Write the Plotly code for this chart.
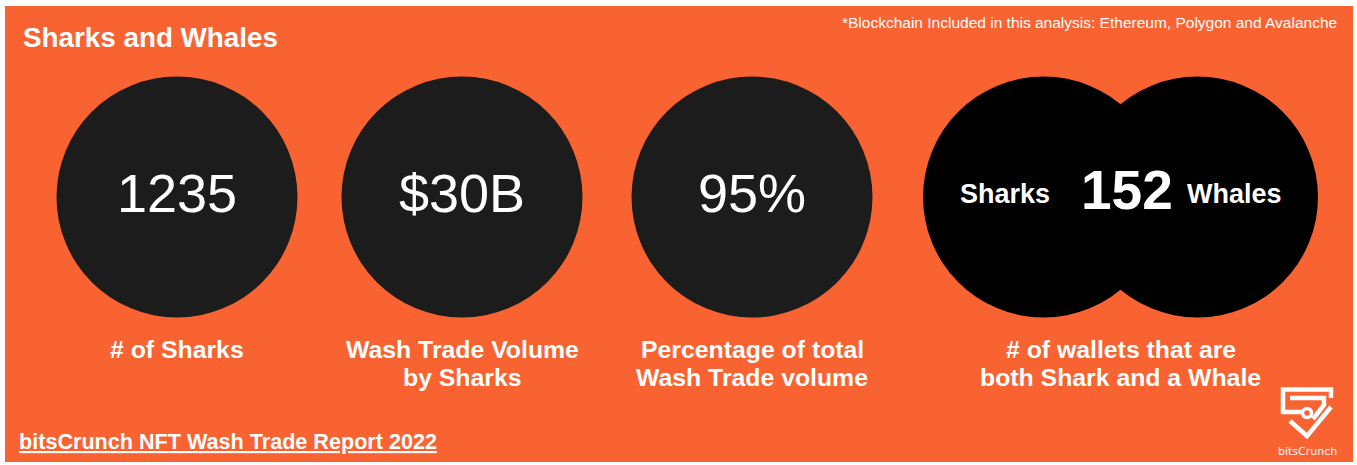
import plotly.graph_objects as go

W, H = 1357, 465

# ---- data ----
title = "Sharks and Whales"
note = "*Blockchain Included in this analysis: Ethereum, Polygon and Avalanche"
footer = "bitsCrunch NFT Wash Trade Report 2022"
stat_values = ["1235", "$30B", "95%"]
stat_labels = [["# of Sharks"],
               ["Wash Trade Volume", "by Sharks"],
               ["Percentage of total", "Wash Trade volume"]]
venn_left = "Sharks"
venn_right = "Whales"
venn_value = "152"
venn_label = ["# of wallets that are", "both Shark and a Whale"]
brand = "bitsCrunch"

ORANGE = "#F96332"
DARK = "#1C1C1C"
FONT = "Liberation Sans, Arial, sans-serif"

fig = go.Figure()
shapes = []
ann = []

# background panel
shapes.append(dict(type="rect", x0=5, x1=1353, y0=6, y1=462, fillcolor=ORANGE, line_width=0, layer="below"))

R = 120.5
cy = 197
centers = [177, 462, 752]
for cx, val, lab in zip(centers, stat_values, stat_labels):
    shapes.append(dict(type="circle", x0=cx - R, x1=cx + R, y0=cy - R, y1=cy + R,
                       fillcolor=DARK, line_width=0, layer="below"))
    ann.append(dict(x=cx, y=193, text=val, showarrow=False, xanchor="center", yanchor="middle",
                    font=dict(family=FONT, size=54, color="white")))
    for i, line in enumerate(lab):
        ann.append(dict(x=cx, y=349 + 28 * i, text="<b>%s</b>" % line, showarrow=False,
                        xanchor="center", yanchor="middle",
                        font=dict(family=FONT, size=24.8, color="white")))

# venn
vl, vr = 1043.5, 1197.5
for cx in (vl, vr):
    shapes.append(dict(type="circle", x0=cx - R, x1=cx + R, y0=cy - R, y1=cy + R,
                       fillcolor="black", line_width=0, layer="below"))
vm = (vl + vr) / 2
ann.append(dict(x=1005, y=194, text="<b>%s</b>" % venn_left, showarrow=False, xanchor="center",
                yanchor="middle", font=dict(family=FONT, size=27, color="white")))
ann.append(dict(x=1234, y=194, text="<b>%s</b>" % venn_right, showarrow=False, xanchor="center",
                yanchor="middle", font=dict(family=FONT, size=27, color="white")))
ann.append(dict(x=1127, y=190, text="<b>%s</b>" % venn_value, showarrow=False, xanchor="center",
                yanchor="middle", font=dict(family=FONT, size=55, color="white")))
for i, line in enumerate(venn_label):
    ann.append(dict(x=vm, y=349 + 28 * i, text="<b>%s</b>" % line, showarrow=False,
                    xanchor="center", yanchor="middle",
                    font=dict(family=FONT, size=24.8, color="white")))

# title, note, footer
ann.append(dict(x=21, y=37, text="<b>%s</b>" % title, showarrow=False, xanchor="left", yanchor="middle",
                font=dict(family=FONT, size=27.8, color="white")))
ann.append(dict(x=1339, y=22, text=note, showarrow=False, xanchor="right", yanchor="middle",
                font=dict(family=FONT, size=15.5, color="white")))
ann.append(dict(x=17, y=441, text="<b><u>%s</u></b>" % footer, showarrow=False, xanchor="left",
                yanchor="middle", font=dict(family=FONT, size=21.6, color="white")))

# logo
logo_paths = [
    "M 1331 398 L 1331 389.5 L 1283 389.5 L 1283 412 L 1302 412",
    "M 1290 421 L 1307 436 L 1331 407",
    "M 1290 398 L 1324 398 L 1324 405 L 1313 419",
]
for p in logo_paths:
    shapes.append(dict(type="path", path=p, line=dict(color="white", width=4.5)))
shapes.append(dict(type="circle", x0=1302.5, x1=1311.5, y0=408.5, y1=417.5,
                   line=dict(color="white", width=3.5), fillcolor=ORANGE))
ann.append(dict(x=1307, y=451, text=brand, showarrow=False, xanchor="center", yanchor="middle",
                font=dict(family="DejaVu Sans, sans-serif", size=11, color="white")))

fig.update_layout(
    width=W, height=H, margin=dict(l=0, r=0, t=0, b=0),
    paper_bgcolor="white", plot_bgcolor="white",
    xaxis=dict(range=[0, W], visible=False, fixedrange=True),
    yaxis=dict(range=[H, 0], visible=False, fixedrange=True),
    shapes=shapes, annotations=ann, showlegend=False,
)
fig.write_html("out.html", config={"displayModeBar": False})
